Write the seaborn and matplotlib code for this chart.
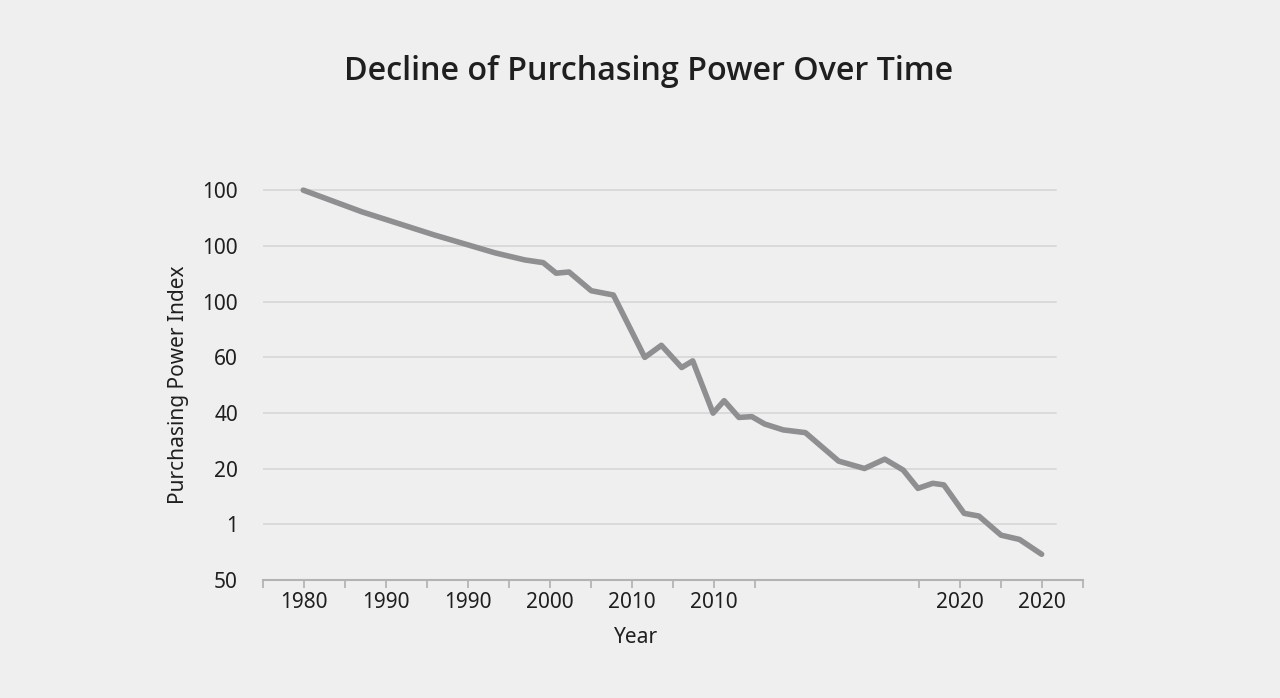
import numpy as np
import pandas as pd
import matplotlib
matplotlib.use("Agg")
import matplotlib.pyplot as plt
import seaborn as sns

# ---- data ----
years = [1980.0, 1983.2, 1987.1, 1990.4, 1992.0, 1993.0, 1993.7, 1994.4, 1995.6,
         1996.8, 1998.5, 1999.4, 2000.5, 2001.1, 2002.2, 2002.8, 2003.6, 2004.3,
         2005.0, 2006.0, 2007.2, 2009.0, 2010.4, 2011.5, 2012.5, 2013.3, 2014.1,
         2014.7, 2015.8, 2016.6, 2017.8, 2018.8, 2020.0]
power_index = [100.0, 94.4, 88.5, 83.9, 82.1, 81.4, 78.7, 79.0, 74.2,
               73.1, 57.1, 60.2, 54.5, 56.2, 42.8, 46.0, 41.7, 41.9,
               40.0, 38.5, 37.8, 30.5, 28.6, 31.0, 28.2, 23.5, 24.8,
               24.4, 17.1, 16.4, 11.5, 10.4, 6.6]
y_tick_labels = ["50", "1", "20", "40", "60", "100", "100", "100"]
x_tick_labels = ["1980", "1990", "1990", "2000", "2010", "2010", "2020", "2020"]

df = pd.DataFrame({"Year": years, "Purchasing Power Index": power_index})

# ---- style ----
BG = "#efefef"
sns.set_theme(style="white")
plt.rcParams["font.family"] = ["Noto Sans", "DejaVu Sans"]
plt.rcParams["figure.facecolor"] = BG
plt.rcParams["axes.facecolor"] = BG
TEXT = "#1f1f1f"

fig = plt.figure(figsize=(12.8, 6.98), dpi=100)
ax = fig.add_axes([263 / 1280, (698 - 580) / 698, 820 / 1280, 400 / 698])

x0, x1 = 1977.82, 2022.24
ax.set_xlim(x0, x1)
ax.set_ylim(0, 102.6)

# horizontal gridlines (stop short of the right end of the axis)
y_ticks = np.linspace(0, 100, 8)
for yv in y_ticks[1:]:
    ax.axhline(yv, xmin=0, xmax=(1056 - 263) / 820, color="#dadada", lw=1.4, zorder=0)

sns.lineplot(data=df, x="Year", y="Purchasing Power Index", ax=ax, estimator=None,
             color="#8f8f91", linewidth=4.0, solid_capstyle="round",
             solid_joinstyle="round", zorder=3)

# ticks
step = (x1 - x0) / 20
ks = [k for k in range(21) if k not in (13, 14, 15)]
label_ks = [1, 3, 5, 7, 9, 11, 17, 19]
ax.set_xticks([x0 + k * step for k in ks])
ax.set_xticklabels([x_tick_labels[label_ks.index(k)] if k in label_ks else "" for k in ks])
ax.tick_params(axis="x", which="major", bottom=True, length=6, width=1.1,
               color="#aaaaaa", labelsize=15, labelcolor=TEXT, pad=3)

ax.set_yticks(y_ticks)
ax.set_yticklabels(y_tick_labels)
ax.tick_params(axis="y", left=False, labelsize=15, labelcolor=TEXT, pad=12)

for s in ["top", "right", "left"]:
    ax.spines[s].set_visible(False)
ax.spines["bottom"].set_color("#b3b3b3")
ax.spines["bottom"].set_linewidth(1.5)

ax.set_xlabel("Year", fontsize=15, color=TEXT)
ax.set_ylabel("Purchasing Power Index", fontsize=15, color=TEXT)
ax.xaxis.set_label_coords((636 - 263) / 820, -0.118)
ax.yaxis.set_label_coords(-0.09, (580 - 385) / 400)

fig.text(649 / 1280, 1 - 71 / 698, "Decline of Purchasing Power Over Time",
         ha="center", va="center", fontsize=23.2, fontweight="semibold", color=TEXT,
         family=["Open Sans", "Lato", "DejaVu Sans"])

fig.savefig("out.png", dpi=100, facecolor=BG)
